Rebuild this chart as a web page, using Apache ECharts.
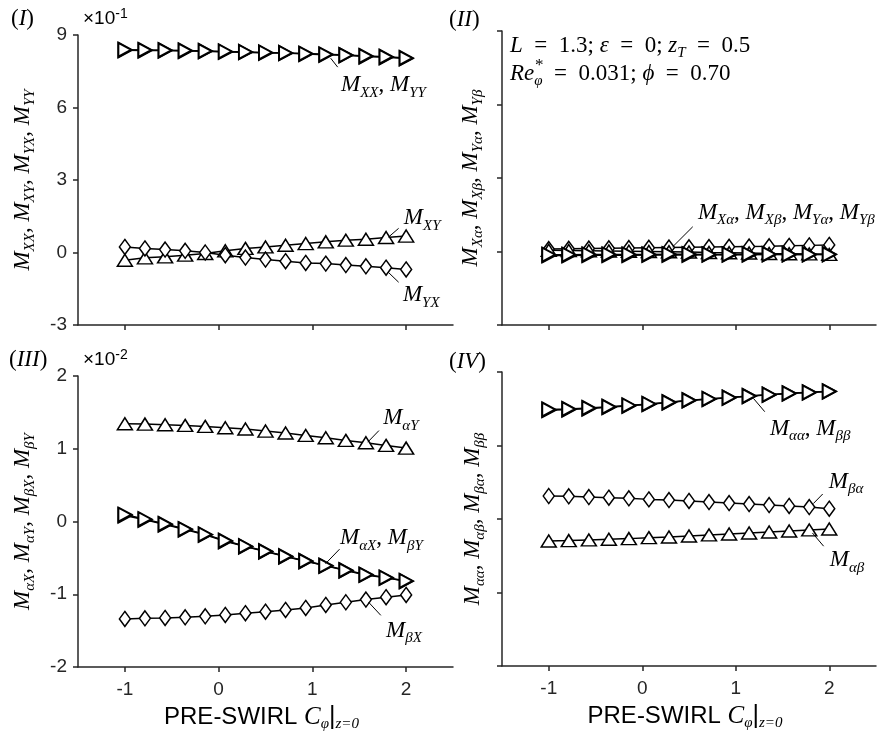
<!DOCTYPE html>
<html><head><meta charset="utf-8">
<script src="https://cdn.jsdelivr.net/npm/echarts@6.0.0/dist/echarts.min.js"></script>
<style>html,body{margin:0;padding:0;background:#fff}#c{width:894px;height:738px}</style>
</head><body><div id="c"></div>
<script>
// ---------- data ----------
const swirl = [-1, -0.786, -0.571, -0.357, -0.143, 0.071, 0.286, 0.5, 0.714, 0.929, 1.143, 1.357, 1.571, 1.786, 2];
const xTicks = [-1, 0, 1, 2];

// Panel I (x10^-1)
const M_XX = [8.37, 8.36, 8.36, 8.34, 8.33, 8.30, 8.29, 8.26, 8.25, 8.21, 8.18, 8.16, 8.11, 8.08, 8.03];
const M_YY = [8.39, 8.38, 8.37, 8.36, 8.34, 8.32, 8.30, 8.28, 8.26, 8.23, 8.20, 8.17, 8.13, 8.10, 8.05];
const M_XY = [-0.32, -0.22, -0.18, -0.11, -0.04, 0.07, 0.17, 0.23, 0.30, 0.37, 0.44, 0.51, 0.55, 0.62, 0.68];
const M_YX = [0.23, 0.17, 0.12, 0.07, 0.00, -0.11, -0.21, -0.29, -0.36, -0.43, -0.46, -0.52, -0.57, -0.63, -0.70];

// Panel II (same scale, labels hidden)
const M_Xa = [0.10, 0.11, 0.12, 0.13, 0.14, 0.15, 0.16, 0.17, 0.18, 0.19, 0.20, 0.21, 0.23, 0.25, 0.27];
const M_Ya = [0.05, 0.04, 0.03, 0.02, 0.01, 0.00, -0.01, -0.02, -0.04, -0.05, -0.06, -0.08, -0.09, -0.10, -0.12];
const M_Xb = [-0.16, -0.16, -0.15, -0.15, -0.15, -0.14, -0.14, -0.14, -0.13, -0.13, -0.13, -0.12, -0.12, -0.12, -0.11];
const M_Yb = [-0.13, -0.13, -0.12, -0.12, -0.12, -0.12, -0.11, -0.11, -0.12, -0.12, -0.11, -0.11, -0.12, -0.12, -0.12];

// Panel III (x10^-2)
const M_aY = [1.344, 1.339, 1.330, 1.321, 1.307, 1.289, 1.271, 1.243, 1.216, 1.183, 1.151, 1.115, 1.083, 1.046, 1.009];
const M_aX = [0.083, 0.023, -0.041, -0.110, -0.183, -0.271, -0.344, -0.413, -0.482, -0.546, -0.610, -0.674, -0.734, -0.775, -0.821];
const M_bY = [0.095, 0.032, -0.034, -0.104, -0.177, -0.264, -0.339, -0.409, -0.478, -0.543, -0.606, -0.670, -0.730, -0.771, -0.817];
const M_bX = [-1.339, -1.330, -1.326, -1.317, -1.303, -1.284, -1.261, -1.239, -1.216, -1.188, -1.147, -1.110, -1.073, -1.041, -1.009];

// Panel IV (labels hidden)
const M_aa = [1.481, 1.490, 1.504, 1.522, 1.540, 1.562, 1.585, 1.613, 1.631, 1.649, 1.672, 1.690, 1.708, 1.721, 1.735];
const M_bb = [1.490, 1.497, 1.510, 1.527, 1.545, 1.566, 1.589, 1.616, 1.634, 1.652, 1.674, 1.692, 1.710, 1.723, 1.737];
const M_ba = [0.313, 0.308, 0.299, 0.290, 0.281, 0.267, 0.258, 0.245, 0.231, 0.217, 0.204, 0.190, 0.177, 0.163, 0.140];
const M_ab = [-0.299, -0.294, -0.285, -0.276, -0.267, -0.254, -0.245, -0.231, -0.217, -0.204, -0.190, -0.177, -0.163, -0.149, -0.136];

// ---------- styling ----------
const AX = '#262626';
const SERIF = "'Liberation Serif', 'DejaVu Serif', serif";
const SANS = "'Liberation Sans', Arial, sans-serif";
const rich = {
  m:  {fontFamily: SERIF, fontStyle: 'italic', fontSize: 23, lineHeight: 30, color: '#000'},
  s:  {fontFamily: SERIF, fontStyle: 'italic', fontSize: 15, lineHeight: 15, verticalAlign: 'bottom', color: '#000'},
  n:  {fontFamily: SERIF, fontSize: 23, lineHeight: 30, color: '#000'},
  p:  {fontFamily: SANS, fontSize: 24, lineHeight: 30, color: '#000'},
  mc: {fontFamily: SERIF, fontStyle: 'italic', fontSize: 25, lineHeight: 30, color: '#000'},
  bar:{fontFamily: SANS, fontSize: 25, lineHeight: 30, color: '#000'}
};
const M = sub => '{m|M}{s|' + sub + '}';
const mlist = subs => subs.map(M).join('{n|, }');
const EQ = '\u2002=\u2002';

const RIGHT = 'path://M0,0L10,5L0,10Z';

function ser(gi, vals, sym, size, bw) {
  return {
    type: 'line', xAxisIndex: gi, yAxisIndex: gi,
    data: swirl.map((x, i) => [x, vals[i]]),
    symbol: sym, symbolSize: size, showAllSymbol: true,
    lineStyle: {color: '#000', width: 1.5},
    itemStyle: {color: '#fff', borderColor: '#000', borderWidth: bw || 1.5},
    silent: true, animation: false, z: 2
  };
}
function annotate(s, items) {
  s.markLine = {
    silent: true, symbol: ['none', 'none'], animation: false,
    label: {show: false},
    lineStyle: {color: '#000', width: 1, type: 'solid'},
    data: items.map(a => [{coord: a.from}, {coord: a.to}])
  };
  s.markPoint = {
    silent: true, animation: false, symbol: 'circle', symbolSize: 1,
    itemStyle: {color: 'rgba(0,0,0,0)'},
    data: items.map(a => ({
      coord: a.at,
      label: {show: true, position: 'right', distance: 0, formatter: a.text, rich: rich}
    }))
  };
  return s;
}

function xAx(gi, labels) {
  return {
    type: 'value', gridIndex: gi, min: -1.5, max: 2.5,
    axisLine: {show: true, onZero: false, lineStyle: {color: AX, width: 1.5}},
    axisTick: {show: true, customValues: xTicks, length: 5, lineStyle: {color: AX, width: 1.5}},
    axisLabel: {show: labels, customValues: xTicks, color: AX, fontFamily: SANS, fontSize: 19, margin: 13},
    splitLine: {show: false},
    name: labels ? '{p|PRE-SWIRL }{mc|C}{s|φ}{bar||}{s|z=0}' : '',
    nameLocation: 'middle', nameGap: 35,
    nameTextStyle: {rich: rich, padding: [0, 8, 0, 0]}
  };
}
function yAx(gi, min, max, interval, labels, name, gap) {
  return {
    type: 'value', gridIndex: gi, min: min, max: max, interval: interval,
    axisLine: {show: true, onZero: false, lineStyle: {color: AX, width: 1.5}},
    axisTick: {show: true, length: 5, lineStyle: {color: AX, width: 1.5}},
    axisLabel: {show: labels, color: AX, fontFamily: SANS, fontSize: 19, margin: 11},
    splitLine: {show: false},
    name: name, nameLocation: 'middle', nameGap: gap,
    nameTextStyle: {rich: rich}
  };
}

// ---------- series ----------
const sI = [
  annotate(ser(0, M_XX, RIGHT, [13, 14], 2), [
    {from: [1.195, 8.04], to: [1.27, 7.67], at: [1.30, 6.92], text: mlist(['XX', 'YY'])}
  ]),
  ser(0, M_YY, RIGHT, [13, 14], 2),
  annotate(ser(0, M_XY, 'triangle', [15, 12]), [
    {from: [1.81, 0.63], to: [1.92, 1.0], at: [1.97, 1.42], text: M('XY')},
    {from: [1.81, -0.82], to: [1.92, -1.23], at: [1.96, -1.77], text: M('YX')}
  ]),
  ser(0, M_YX, 'diamond', [11, 15])
];
const sII = [
  annotate(ser(1, M_Xa, 'diamond', [11, 15]), [
    {from: [0.325, 0.19], to: [0.54, 1.01], at: [0.59, 1.58], text: mlist(['Xα', 'Xβ', 'Yα', 'Yβ'])}
  ]),
  ser(1, M_Ya, 'triangle', [15, 12]),
  ser(1, M_Xb, RIGHT, [13, 14], 2),
  ser(1, M_Yb, RIGHT, [13, 14], 2)
];
const sIII = [
  annotate(ser(2, M_aY, 'triangle', [15, 12]), [
    {from: [1.59, 1.09], to: [1.71, 1.25], at: [1.75, 1.42], text: M('αY')},
    {from: [1.14, -0.58], to: [1.29, -0.38], at: [1.29, -0.23], text: M('αX') + '{n|, }' + M('βY')},
    {from: [1.60, -1.11], to: [1.73, -1.29], at: [1.78, -1.50], text: M('βX')}
  ]),
  ser(2, M_aX, RIGHT, [13, 14], 2),
  ser(2, M_bY, RIGHT, [13, 14], 2),
  ser(2, M_bX, 'diamond', [11, 15])
];
const sIV = [
  annotate(ser(3, M_aa, RIGHT, [13, 14], 2), [
    {from: [1.19, 1.64], to: [1.31, 1.46], at: [1.36, 1.23], text: mlist(['αα', 'ββ'])},
    {from: [1.83, 0.21], to: [1.93, 0.34], at: [1.99, 0.51], text: M('βα')},
    {from: [1.82, -0.19], to: [1.94, -0.37], at: [2.00, -0.56], text: M('αβ')}
  ]),
  ser(3, M_bb, RIGHT, [13, 14], 2),
  ser(3, M_ba, 'diamond', [11, 15]),
  ser(3, M_ab, 'triangle', [15, 12])
];

const txt = (x, y, text, extra) => ({
  type: 'text', x: x, y: y, silent: true,
  style: Object.assign({text: text, rich: rich, verticalAlign: 'middle', align: 'left'}, extra || {})
});
const expRich = {
  a: {fontFamily: SANS, fontSize: 19, color: AX, lineHeight: 24},
  e: {fontFamily: SANS, fontSize: 14, color: AX, lineHeight: 24, verticalAlign: 'top'}
};

const option = {
  backgroundColor: '#fff',
  animation: false,
  grid: [
    {left: 78, top: 35, width: 375, height: 290},
    {left: 502, top: 31, width: 374, height: 294},
    {left: 78, top: 376, width: 375, height: 291},
    {left: 502, top: 372, width: 374, height: 294}
  ],
  xAxis: [xAx(0, false), xAx(1, false), xAx(2, true), xAx(3, true)],
  yAxis: [
    yAx(0, -3, 9, 3, true, mlist(['XX', 'XY', 'YX', 'YY']), 40),
    yAx(1, -3, 9, 3, false, mlist(['Xα', 'Xβ', 'Yα', 'Yβ']), 16),
    yAx(2, -2, 2, 1, true, mlist(['αX', 'αY', 'βX', 'βY']), 40),
    yAx(3, -2, 2, 1, false, mlist(['αα', 'αβ', 'βα', 'ββ']), 14)
  ],
  series: [].concat(sI, sII, sIII, sIV),
  graphic: [
    txt(11, 19, '{n|(}{m|I}{n|)}'),
    txt(449, 20, '{n|(}{m|II}{n|)}'),
    txt(9, 360, '{n|(}{m|III}{n|)}'),
    txt(449, 362, '{n|(}{m|IV}{n|)}'),
    {type: 'text', x: 83, y: 19, silent: true, style: {text: '{a|×10}{e|-1}', rich: expRich, verticalAlign: 'middle'}},
    {type: 'text', x: 83, y: 360, silent: true, style: {text: '{a|×10}{e|-2}', rich: expRich, verticalAlign: 'middle'}},
    txt(510, 46, '{m|L}{n|' + EQ + '1.3; }{m|ε}{n|' + EQ + '0; }{m|z}{s|T}{n|' + EQ + '0.5}'),
    txt(510, 74, '{m|Re}{s|φ}{n|' + EQ + '0.031; }{m|ϕ}{n|' + EQ + '0.70}'),
    {type: 'text', x: 535, y: 66, silent: true, style: {text: '*', fontFamily: SERIF, fontSize: 17, fill: '#000', verticalAlign: 'middle'}}
  ]
};
const chart = echarts.init(document.getElementById('c'), null, {renderer: 'canvas'});
chart.setOption(option);
</script>
</body></html>
